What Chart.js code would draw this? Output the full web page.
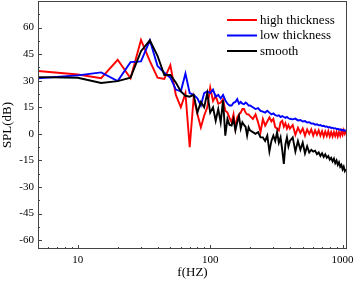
<!DOCTYPE html>
<html>
<head>
<meta charset="utf-8">
<script src="https://cdn.jsdelivr.net/npm/chart.js@4"></script>
<style>
  html, body { margin: 0; padding: 0; background: #fff; }
  canvas { display: block; }
</style>
</head>
<body>
<canvas id="spl" width="354" height="281"></canvas>
<script>
// frequencies (Hz)
const freqs = [
    5, 10, 15, 20, 25, 30, 35, 40, 45, 50, 55, 60, 65, 70, 75, 80, 85, 90, 95, 100,
    105, 110, 115, 120, 125, 130, 135, 140, 145, 150, 155, 160, 165, 170, 175, 180, 185, 190, 195, 200,
    210, 220, 230, 240, 250, 260, 270, 280, 290, 300, 310, 320, 330, 340, 350, 360, 370, 380, 390, 400,
    420, 440, 460, 480, 500, 520, 540, 560, 580, 600, 620, 640, 660, 680, 700, 720, 740, 760, 780, 800,
    820, 840, 860, 880, 900, 920, 940, 960, 980, 1000, 1020, 1040, 1060
];

const highThickness = [
    35.5, 33.5, 31.4, 41.8, 31.4, 53, 41, 31.7, 31, 38.8, 22, 15, 23, -7.5, 20.5, 11.2, 3.7, 10.2, 15, 26.1,
    18.6, 21.5, 17, 17.7, 19.6, 13, 12, 9, 6.5, 11, 3, 9.3, 11, 12, 14, 14, 12, 11, 11, 10,
    8.4, 11, 6.5, 1, 8.4, 4.7, 7, 9.3, 7, 8.4, 3.7, 3, 1.9, 6.5, 7.4, 4, 6, 3, 5, 3,
    5, -0.5, 3.5, 0.5, 3, -1, 2.5, 0, 2.5, -1, 2, -0.5, 2, -1, 1.5, -1.5, 1.3, -1.2, 1.5, -1.5,
    1, -1.5, 1, -1.2, 1, -1.5, 1, -1, 1.5, -0.5, 2, 0, 1.5
];

const lowThickness = [
    31.4, 33, 34.7, 29.8, 40.5, 40.9, 52.8, 38.3, 34.5, 31.7, 25, 24, 34, 23, 22, 20, 16, 23, 24, 23,
    25, 21, 22, 20, 22, 19, 17, 16, 16, 17.5, 18, 19.6, 17, 18, 17, 16.8, 17.7, 17, 16, 16,
    15, 14, 14.5, 13, 12.5, 12, 13, 12, 11, 11.5, 10.5, 10.2, 10.5, 9.5, 10, 9.5, 9, 9.5, 8.8, 8.5,
    8.2, 8.6, 7.6, 7.8, 7, 7.2, 6.4, 6.6, 5.8, 5.9, 5.2, 5.4, 4.8, 5, 4.4, 4.6, 4, 4.2, 3.6, 3.8,
    3.3, 3.5, 3, 3.2, 2.7, 2.9, 2.4, 2.6, 2.1, 2.3, 1.8, 2, 1.6
];

const smooth = [
    32, 31.7, 28.7, 29.8, 31.7, 46.7, 52.8, 44, 33.2, 33.2, 29, 24, 21.5, 21, 22, 12, 18, 15, 23, 12,
    15, 7.4, 14, 6.5, 19, -1, 8.4, 5, 4.7, 8.4, 2, 6.5, 10, 3, 6.5, 5, 4, -1, 3.7, 2,
    1, 0, 1, -2, -2, -4, -1, -10, -4, -1, -4, 1, -5, -2, -9, -17, -6, -2, -7, -4,
    -2, -10, -4, -9, -5, -11, -7, -10.5, -9, -10, -9.5, -11.5, -10.5, -12.5, -11, -13, -11.5, -13.5, -12.5, -14.5,
    -13.5, -15.5, -14, -16.5, -15, -17.5, -16, -18.5, -17.5, -20, -18.5, -21, -20
];

const seriesNames = ['high thickness', 'low thickness', 'smooth'];
const xTicks = [10, 100, 1000];
const yTicks = [-60, -45, -30, -15, 0, 15, 30, 45, 60];

const serif = 'Liberation Serif, Times New Roman, serif';

function toPoints(values) {
    return freqs.map((f, i) => ({ x: f, y: values[i] }));
}

// ticks drawn inward + frame on all four sides
const frameTicks = {
    id: 'frameTicks',
    afterDraw(chart) {
        const { ctx, chartArea: a, scales } = chart;
        const xs = scales.x, ys = scales.y;
        ctx.save();
        ctx.strokeStyle = '#444';
        ctx.lineWidth = 1;
        ctx.strokeRect(a.left + 0.5, a.top + 0.5, a.right - a.left - 1, a.bottom - a.top - 1);
        ctx.beginPath();
        for (let d = 1; d <= 1000; d *= 10) {
            for (let m = 1; m < 10; m++) {
                const v = d * m;
                if (v < xs.min || v > xs.max) continue;
                const px = Math.round(xs.getPixelForValue(v)) + 0.5;
                const len = m === 1 ? 4 : 2;
                ctx.moveTo(px, a.bottom);
                ctx.lineTo(px, a.bottom - len);
            }
        }
        for (let v = -60; v <= 67.5; v += 7.5) {
            const py = Math.round(ys.getPixelForValue(v)) + 0.5;
            const len = v % 15 === 0 ? 4 : 2;
            ctx.moveTo(a.left, py);
            ctx.lineTo(a.left + len, py);
        }
        ctx.stroke();
        ctx.restore();
    }
};

// legend in the top right corner
const cornerLegend = {
    id: 'cornerLegend',
    afterDraw(chart) {
        const { ctx } = chart;
        const rows = [20, 35.5, 51];
        ctx.save();
        ctx.font = '13px ' + serif;
        ctx.textBaseline = 'middle';
        ctx.fillStyle = '#000';
        chart.data.datasets.forEach((ds, i) => {
            ctx.strokeStyle = ds.borderColor;
            ctx.lineWidth = 2;
            ctx.beginPath();
            ctx.moveTo(227, rows[i]);
            ctx.lineTo(257, rows[i]);
            ctx.stroke();
            ctx.fillText(ds.label, 260, rows[i] + 0.5);
        });
        ctx.restore();
    }
};

const ctx = document.getElementById('spl').getContext('2d');
new Chart(ctx, {
    type: 'line',
    data: {
        datasets: [
            { label: seriesNames[0], data: toPoints(highThickness), borderColor: '#ff0000', order: 2 },
            { label: seriesNames[1], data: toPoints(lowThickness), borderColor: '#0000ff', order: 1 },
            { label: seriesNames[2], data: toPoints(smooth), borderColor: '#000000', order: 0 }
        ]
    },
    options: {
        responsive: false,
        animation: false,
        layout: { padding: { top: 1, right: 7, left: 0, bottom: 0 } },
        elements: {
            point: { radius: 0 },
            line: { borderWidth: 1.9, tension: 0, fill: false }
        },
        scales: {
            x: {
                type: 'logarithmic',
                min: 5,
                max: 1080,
                afterBuildTicks: s => { s.ticks = xTicks.map(v => ({ value: v })); },
                afterFit: s => {
                    s.height = 32;
                    s.paddingLeft = 0;
                    s.paddingRight = 0;
                },
                grid: { display: false, drawTicks: false },
                border: { display: false },
                ticks: {
                    autoSkip: false,
                    maxRotation: 0,
                    padding: 5,
                    color: '#000',
                    font: { family: serif, size: 11 },
                    callback: v => String(v)
                },
                title: {
                    display: true,
                    text: 'f(HZ)',
                    color: '#000',
                    font: { family: serif, size: 13 },
                    padding: { top: 0, bottom: 1 }
                }
            },
            y: {
                min: -65,
                max: 75,
                afterBuildTicks: s => { s.ticks = yTicks.map(v => ({ value: v })); },
                afterFit: s => {
                    s.width = 38;
                    s.paddingTop = 0;
                    s.paddingBottom = 0;
                },
                grid: { display: false, drawTicks: false },
                border: { display: false },
                ticks: {
                    padding: 4,
                    color: '#000',
                    font: { family: serif, size: 11 }
                },
                title: {
                    display: true,
                    text: 'SPL(dB)',
                    color: '#000',
                    font: { family: serif, size: 13 },
                    padding: { top: 0, bottom: 0 }
                }
            }
        },
        plugins: {
            legend: { display: false },
            tooltip: { enabled: false }
        }
    },
    plugins: [frameTicks, cornerLegend]
});
</script>
</body>
</html>
